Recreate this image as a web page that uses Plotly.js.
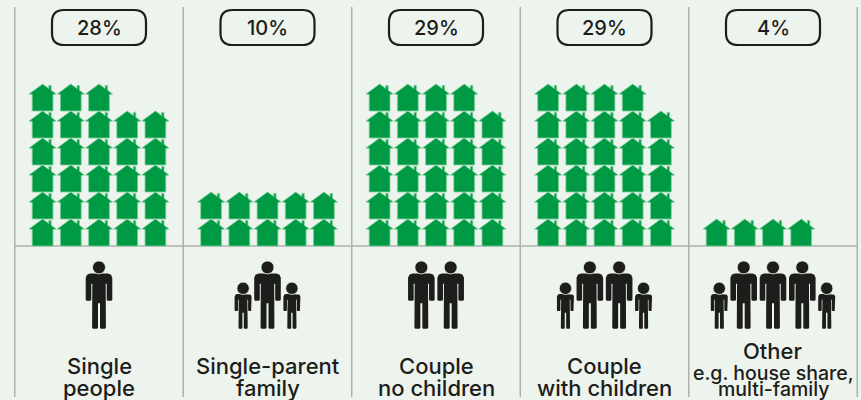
<!DOCTYPE html>
<html><head><meta charset="utf-8">
<script src="https://cdn.plot.ly/plotly-3.0.1.min.js"></script>
<style>html,body{margin:0;padding:0;background:#edf4ed;overflow:hidden}</style>
</head><body><div id="chart" style="width:861px;height:400px"></div>
<script>
// ---- data ----
const categories = ['Single people','Single-parent family','Couple no children','Couple with children','Other'];
const shares = [28, 10, 29, 29, 4];
const adults = [1, 1, 2, 2, 3];
const children = [0, 2, 0, 2, 2];
const labelLines = [
  [['Single',0],['people',0]],
  [['Single-parent',0],['family',0]],
  [['Couple',0],['no children',0]],
  [['Couple',0],['with children',0]],
  [['Other',0],['e.g. house share,',1],['multi-family',1]]
];

// ---- scales: x unit = one category column, y unit = one row of houses ----
const COL = 168.5, ROW = 27, W = 861, H = 400, X0 = 99, Y0 = 246, PER_ROW = 5;
const dx = p => p / COL, dy = p => p / ROW;
const yAt = py => (Y0 - py) / ROW;
const BG = '#edf4ed', INK = '#1d1d1b', GREEN = '#009a44', RULE = '#aeb1ae';

// glyph outlines, pixels relative to glyph centre / base
const houseShape = [[-10.4,0],[-10.4,16.6],[-13.6,17],[0,27],[6.2,22.5],[6.2,25.6],[8.6,25.6],[8.6,20.7],[13.6,17],[10.4,16.6],[10.4,0]];
const mirror = half => half.concat(half.slice().reverse().map(([a,b]) => [-a,b]));
const adultShape = mirror([[0,55.3],[9,55.3],[12,54],[13.3,51],[13.3,29],[12.5,28],[8.5,28],[7.7,29],[7.7,45],[6.7,45],[6.9,1],[6,0],[1.8,0],[1,1],[1,25.5],[0,25.5]]);
const childShape = mirror([[0,34.7],[6,34.7],[7.7,34],[8.5,32],[8.5,18.5],[8,17.7],[5.7,17.7],[5,18.5],[5,29],[4.3,29],[4.6,.7],[4,0],[1.2,0],[.7,.7],[.7,16],[0,16]]);

function stamp(shape, cx, cy, xs, ys) {
  shape.forEach(([a,b]) => { xs.push(cx + dx(a)); ys.push(cy + dy(b)); });
  xs.push(cx + dx(shape[0][0])); ys.push(cy + dy(shape[0][1]));
  xs.push(null); ys.push(null);
}

// houses: one per percentage point
const hx = [], hy = [];
shares.forEach((v, c) => {
  for (let k = 0; k < v; k++) {
    const col = k % PER_ROW, row = Math.floor(k / PER_ROW);
    stamp(houseShape, c + dx((col - 2) * 28.2), row, hx, hy);
  }
});

// people
const bx = [], by = [], ax = [], ay = [], kx = [], ky = [];
const feet = yAt(328.7), ADULT_GAP = 29.3, CHILD_GAP = 24.4;
adults.forEach((n, c) => {
  const half = (n - 1) / 2 * ADULT_GAP;
  for (let i = 0; i < n; i++) {
    const x = c + dx(-half + i * ADULT_GAP);
    stamp(adultShape, x, feet, bx, by);
    ax.push(x); ay.push(feet + dy(61.3));
  }
  for (let i = 0; i < children[c]; i++) {
    const x = c + dx((i === 0 ? -1 : 1) * (half + CHILD_GAP));
    stamp(childShape, x, feet, bx, by);
    kx.push(x); ky.push(feet + dy(40.4));
  }
});

const traces = [
  {type:'scatter',mode:'lines',x:hx,y:hy,fill:'toself',fillcolor:GREEN,line:{color:'#7fd09c',width:0.8},hoverinfo:'skip',showlegend:false},
  {type:'scatter',mode:'lines',x:bx,y:by,fill:'toself',fillcolor:INK,line:{color:INK,width:0},hoverinfo:'skip',showlegend:false},
  {type:'scatter',mode:'markers',x:ax,y:ay,marker:{symbol:'circle',size:13,color:INK,line:{color:BG,width:0.8}},hoverinfo:'skip',showlegend:false},
  {type:'scatter',mode:'markers',x:kx,y:ky,marker:{symbol:'circle',size:12.4,color:INK,line:{color:BG,width:0.8}},hoverinfo:'skip',showlegend:false}
];

// frame and rules
const shapes = [];
for (let c = 0; c <= categories.length; c++) {
  shapes.push({type:'line',xref:'x',yref:'y',x0:c-.5,x1:c-.5,y0:yAt(7),y1:yAt(397),line:{color:RULE,width:1.5},layer:'below'});
}
shapes.push({type:'line',xref:'x',yref:'y',x0:-.5,x1:categories.length-.5,y0:0,y1:0,line:{color:RULE,width:1.5},layer:'below'});

// percentage pills
const annotations = [];
const PW = 47, PT = 10, PB = 45, PR = 12;
shares.forEach((v, c) => {
  const l = c - dx(PW), r = c + dx(PW), t = yAt(PT), b = yAt(PB), rx = dx(PR), ry = dy(PR);
  shapes.push({type:'path',xref:'x',yref:'y',
    path:`M${l+rx},${t} L${r-rx},${t} Q${r},${t} ${r},${t-ry} L${r},${b+ry} Q${r},${b} ${r-rx},${b} L${l+rx},${b} Q${l},${b} ${l},${b+ry} L${l},${t-ry} Q${l},${t} ${l+rx},${t} Z`,
    line:{color:INK,width:2.2},fillcolor:'rgba(0,0,0,0)'});
  annotations.push({x:c,y:yAt(27.5),xref:'x',yref:'y',text:v+'%',showarrow:false,xanchor:'center',yanchor:'middle',
    font:{family:'Inter, sans-serif',size:20,color:INK,weight:500}});
});

// category labels, bottom-aligned in the column
labelLines.forEach((lines, c) => {
  const pos = lines.length === 3 ? [350.5, 373, 389] : [366, 387.5];
  lines.forEach(([txt, small], i) => {
    annotations.push({x:c,y:yAt(pos[i]),xref:'x',yref:'y',text:txt,showarrow:false,xanchor:'center',yanchor:'middle',
      font:{family:'Inter, sans-serif',size:small?19.5:22,color:INK,weight:500}});
  });
});

const layout = {
  width:W,height:H,margin:{l:0,r:0,t:0,b:0},
  paper_bgcolor:BG,plot_bgcolor:BG,showlegend:false,
  xaxis:{range:[(0-X0)/COL,(W-X0)/COL],visible:false,fixedrange:true},
  yaxis:{range:[yAt(H),yAt(0)],visible:false,fixedrange:true},
  shapes,annotations
};
Plotly.newPlot('chart',traces,layout,{displayModeBar:false,staticPlot:true});
</script></body></html>
